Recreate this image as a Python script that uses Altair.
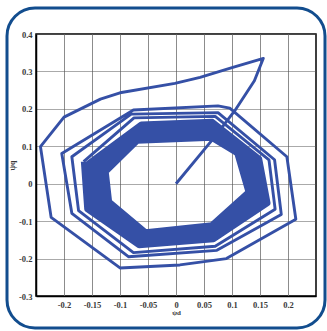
import altair as alt
import pandas as pd

# Phase trajectory of the flux components (psi_d, psi_q), in drawing order.
# Start-up rise from the origin to the overshoot peak
rise_d = [0.0, 0.067, 0.105, 0.14, 0.156]
rise_q = [0.0, 0.121, 0.195, 0.275, 0.335]

# Sweep back across the top to the leftmost excursion
sweep_d = [0.1, 0.043, -0.002, -0.1, -0.135, -0.2, -0.242]
sweep_q = [0.31, 0.284, 0.268, 0.243, 0.226, 0.178, 0.099]

# First decaying orbits
loop1_d = [-0.223, -0.1, 0.007, 0.09, 0.214, 0.198, 0.096, 0.075, -0.076, -0.204]
loop1_q = [-0.09, -0.225, -0.217, -0.2, -0.095, 0.072, 0.202, 0.208, 0.197, 0.081]
loop2_d = [-0.186, -0.085, 0.073, 0.188, 0.176, 0.075, -0.08, -0.186]
loop2_q = [-0.079, -0.195, -0.178, -0.082, 0.064, 0.19, 0.186, 0.072]
loop3_d = [-0.174, -0.076, 0.07, 0.177, 0.166, 0.07, -0.075]
loop3_q = [-0.072, -0.184, -0.167, -0.068, 0.064, 0.18, 0.176]

# Settled orbits forming the dense ring
band_d = [
    [-0.165, -0.159, -0.066, 0.067, 0.164, 0.149, 0.065, -0.062],
    [-0.157, -0.151, -0.064, 0.066, 0.157, 0.141, 0.064, -0.063],
    [-0.149, -0.143, -0.062, 0.065, 0.150, 0.133, 0.064, -0.064],
    [-0.141, -0.135, -0.060, 0.064, 0.143, 0.125, 0.064, -0.065],
    [-0.133, -0.127, -0.057, 0.064, 0.136, 0.117, 0.064, -0.067],
    [-0.125, -0.119, -0.054, 0.064, 0.129, 0.109, 0.064, -0.069, -0.125],
]
band_q = [
    [0.059, -0.068, -0.165, -0.149, -0.052, 0.067, 0.166, 0.159],
    [0.054, -0.064, -0.158, -0.141, -0.046, 0.070, 0.157, 0.150],
    [0.049, -0.060, -0.151, -0.133, -0.040, 0.073, 0.148, 0.141],
    [0.043, -0.056, -0.144, -0.125, -0.034, 0.075, 0.139, 0.132],
    [0.038, -0.052, -0.137, -0.117, -0.028, 0.078, 0.130, 0.123],
    [0.032, -0.048, -0.129, -0.110, -0.022, 0.081, 0.122, 0.114, 0.032],
]

x_ticks = [-0.2, -0.15, -0.1, -0.05, 0, 0.05, 0.1, 0.15, 0.2]
y_ticks = [-0.3, -0.2, -0.1, 0, 0.1, 0.2, 0.3, 0.4]

LINE = "#3550a6"
FRAME = "#124d8e"

trans_d = rise_d + sweep_d + loop1_d + loop2_d + loop3_d + [band_d[0][0]]
trans_q = rise_q + sweep_q + loop1_q + loop2_q + loop3_q + [band_q[0][0]]
transient = pd.DataFrame({"psi_d": trans_d, "psi_q": trans_q, "idx": range(len(trans_d))})

ring_d = [v for loop in band_d for v in loop]
ring_q = [v for loop in band_q for v in loop]
ring = pd.DataFrame({"psi_d": ring_d, "psi_q": ring_q, "idx": range(len(ring_d))})

xscale = alt.Scale(domain=[-0.25, 0.25], nice=False, zero=False)
yscale = alt.Scale(domain=[-0.3, 0.4], nice=False, zero=False)

x_enc = alt.X(
    "psi_d:Q", scale=xscale,
    axis=alt.Axis(values=x_ticks, title="ψd", labelExpr="toString(datum.value)",
                  gridColor="#8c8c8c", gridWidth=1, titlePadding=0, titleFontSize=7),
)
y_enc = alt.Y(
    "psi_q:Q", scale=yscale,
    axis=alt.Axis(values=y_ticks, title="ψq", labelExpr="toString(datum.value)",
                  gridColor="#555555", gridDash=[1, 1], gridWidth=1,
                  titlePadding=2, titleFontSize=8),
)

path = alt.Chart(transient).mark_line(color=LINE, strokeWidth=2.9, strokeJoin="round").encode(
    x=x_enc, y=y_enc, order="idx:Q"
)
dense = alt.Chart(ring).mark_line(color=LINE, strokeWidth=5.5, strokeJoin="round").encode(
    x=x_enc, y=y_enc, order="idx:Q"
)

panel = alt.Chart(pd.DataFrame({"k": [0]})).mark_rect(
    fillOpacity=0, stroke=FRAME, strokeWidth=3, cornerRadius=28
).encode(
    x=alt.value(-29), x2=alt.value(289), y=alt.value(-26), y2=alt.value(294)
)

chart = alt.layer(path, dense, panel).properties(
    width=280, height=262,
    autosize=alt.AutoSizeParams(type="none"),
    padding={"left": 36, "top": 34, "right": 11, "bottom": 35},
    background="white",
).configure_view(
    stroke="black", strokeWidth=1.5
).configure_axis(
    domainColor="black", domainWidth=1.5, ticks=False,
    labelFont="Liberation Serif", labelFontSize=8.5, labelFontWeight="bold",
    labelColor="#3a3a3a", labelPadding=4,
    titleFont="Liberation Serif", titleColor="#3a3a3a", titleFontWeight="bold",
)

chart.save("out.html", embed_options={"renderer": "svg", "actions": False})
